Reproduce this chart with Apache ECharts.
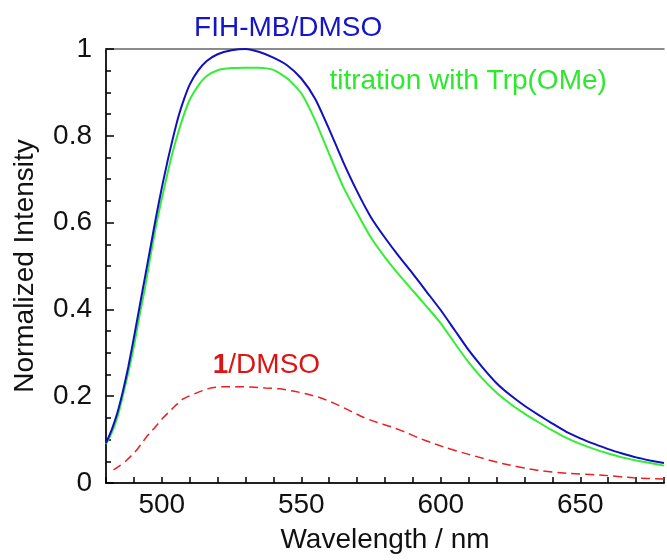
<!DOCTYPE html>
<html>
<head>
<meta charset="utf-8">
<script src="https://cdn.jsdelivr.net/npm/echarts@6/dist/echarts.min.js"></script>
<style>
html,body{margin:0;padding:0;background:#fff;}
#chart{width:667px;height:560px;}
</style>
</head>
<body>
<div id="chart"></div>
<script>
// ---- data ----
var wavelength = [480,482,484,486,488,490,492,494,496,498,500,502,504,506,508,510,513,516,520,525,530,535,540,545,550,555,560,565,570,575,580,585,590,595,600,605,610,615,620,625,630,635,640,645,650,655,660,665,670,675,680];
var fihMB = [0.092,0.122,0.160,0.210,0.268,0.335,0.405,0.475,0.545,0.615,0.680,0.740,0.795,0.845,0.885,0.918,0.950,0.972,0.988,0.997,1.000,0.993,0.980,0.962,0.932,0.885,0.815,0.740,0.672,0.612,0.565,0.522,0.482,0.440,0.398,0.352,0.306,0.266,0.230,0.202,0.178,0.157,0.137,0.118,0.103,0.090,0.078,0.068,0.059,0.052,0.046];
var titration = [0.090,0.115,0.150,0.200,0.255,0.315,0.385,0.450,0.525,0.595,0.655,0.712,0.765,0.810,0.850,0.883,0.915,0.937,0.951,0.956,0.957,0.957,0.952,0.932,0.898,0.835,0.758,0.683,0.622,0.565,0.520,0.480,0.443,0.406,0.368,0.322,0.278,0.240,0.208,0.182,0.160,0.140,0.121,0.104,0.090,0.078,0.068,0.059,0.052,0.046,0.040];
var wavelengthDMSO = [482.7,485,487.5,491,494.5,497.5,500.3,503.9,507.5,512.3,517,522,527,532,537,542,547,552,557,562,567,572,577,582,587,592,597,602,610,622,634,646,658,669,680];
var dmso = [0.030,0.040,0.053,0.076,0.106,0.128,0.149,0.172,0.193,0.207,0.218,0.222,0.222,0.221,0.219,0.217,0.212,0.205,0.196,0.183,0.168,0.152,0.140,0.130,0.118,0.104,0.092,0.081,0.066,0.045,0.030,0.022,0.018,0.012,0.009];
var xTickLabels = [500,550,600,650];
var yTickLabels = ['0','0.2','0.4','0.6','0.8','1'];
var annotations = [
  {text:'FIH-MB/DMSO', at:[545.3,1.047], color:'#1414c8'},
  {text:'titration with Trp(OMe)', at:[609.8,0.926], color:'#2ee82e'},
  {text:'{b|1}/DMSO', at:[537.5,0.272], color:'#dd1414'}
];

function pairs(xs, ys){ return xs.map(function(x,i){ return [x, ys[i]]; }); }

var FONT = 'Liberation Sans, Arial, sans-serif';
var chart = echarts.init(document.getElementById('chart'), null, {renderer:'canvas'});
var option = {
  animation:false,
  backgroundColor:'#fff',
  grid:{left:106, top:49, width:565, height:434},
  xAxis:[{
    type:'value', min:480, max:680, interval:10,
    name:'Wavelength / nm', nameLocation:'middle', nameGap:43,
    nameTextStyle:{fontFamily:FONT, fontSize:28, color:'#111'},
    axisLine:{show:true, onZero:false, lineStyle:{color:'#222', width:2}},
    axisTick:{show:true, inside:true, length:6, interval:0, lineStyle:{color:'#000', width:1.5}},
    axisLabel:{margin:8, fontFamily:FONT, fontSize:28, color:'#111', interval:0,
      formatter:function(v){ return xTickLabels.indexOf(v) >= 0 ? String(v) : ''; }},
    splitLine:{show:false}
  },{
    type:'value', position:'top', min:480, max:680,
    axisLine:{show:true, onZero:false, lineStyle:{color:'#666', width:1.5}},
    axisTick:{show:false}, axisLabel:{show:false}, splitLine:{show:false}
  }],
  yAxis:{
    type:'value', min:0, max:1, interval:0.2,
    name:'Normalized Intensity', nameLocation:'middle', nameGap:67,
    nameTextStyle:{fontFamily:FONT, fontSize:28, color:'#111'},
    axisLine:{show:true, onZero:false, lineStyle:{color:'#222', width:2}},
    axisTick:{show:true, inside:true, length:8, lineStyle:{color:'#000', width:1.5}},
    minorTick:{show:true, splitNumber:4, length:5, lineStyle:{color:'#000', width:1.5}},
    axisLabel:{margin:14, fontFamily:FONT, fontSize:28, color:'#111',
      formatter:function(v){ return yTickLabels[Math.round(v/0.2)]; }},
    splitLine:{show:false}
  },
  series:[
    {type:'line', name:'titration', data:pairs(wavelength, titration), showSymbol:false, smooth:0.2,
      lineStyle:{color:'#33ee33', width:2}, itemStyle:{color:'#33ee33'}},
    {type:'line', name:'FIH-MB', data:pairs(wavelength, fihMB), showSymbol:false, smooth:0.2,
      lineStyle:{color:'#1010c0', width:2}, itemStyle:{color:'#1010c0'}},
    {type:'line', name:'1/DMSO', data:pairs(wavelengthDMSO, dmso), showSymbol:false, smooth:0.2,
      lineStyle:{color:'#e82020', width:1.5, type:[9,5]}, itemStyle:{color:'#e82020'}}
  ]
};
chart.setOption(option);

var g = annotations.map(function(a){
  var p = chart.convertToPixel({gridIndex:0}, a.at);
  return {
    type:'text', x:p[0], y:p[1], z:100,
    style:{text:a.text, fill:a.color, font:'28px ' + FONT, fontFamily:FONT, fontSize:28,
      align:'center', verticalAlign:'middle',
      rich:{b:{fontWeight:'bold', fontSize:28, fontFamily:FONT, fill:a.color}}}
  };
});
chart.setOption({graphic:g});
</script>
</body>
</html>
